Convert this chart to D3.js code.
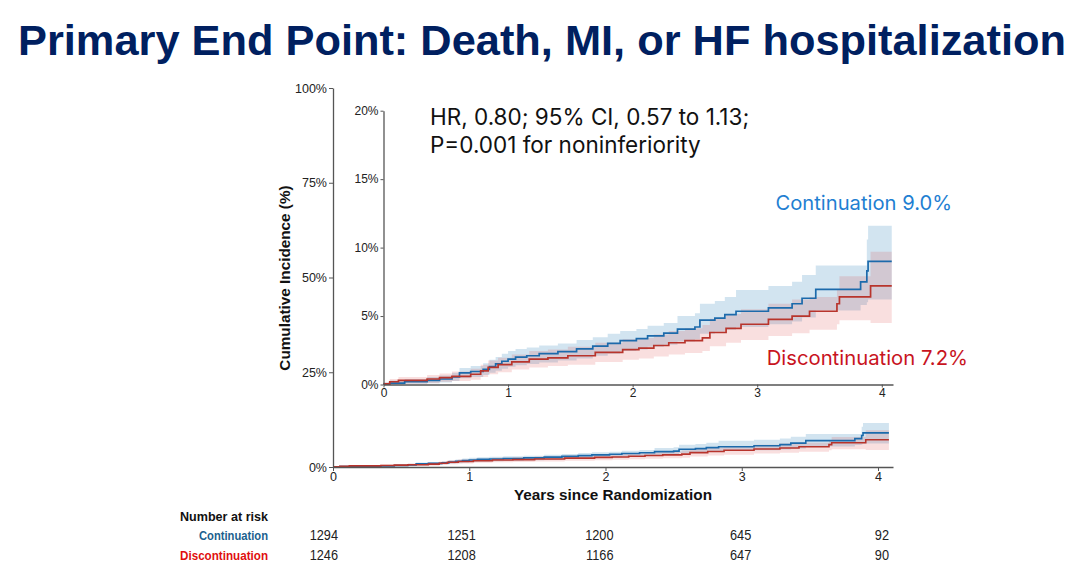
<!DOCTYPE html>
<html>
<head>
<meta charset="utf-8">
<script src="https://cdn.jsdelivr.net/npm/d3@7"></script>
<style>
html,body{margin:0;padding:0;background:#fff;}
svg{display:block;}
</style>
</head>
<body>
<svg id="chart" width="1080" height="572"></svg>
<script>
// ---------------- DATA ----------------
const titleText = "Primary End Point: Death, MI, or HF hospitalization";
const annotationLines = ["HR, 0.80; 95% CI, 0.57 to 1.13;", "P=0.001 for noninferiority"];
const seriesNames = ["Continuation", "Discontinuation"];
const seriesLabels = ["Continuation 9.0%", "Discontinuation 7.2%"];

// Continuation (years, cumulative incidence %, lower CI, upper CI)
const contTime  = [0.00,0.05,0.17,0.35,0.45,0.55,0.61,0.70,0.80,0.85,0.90,0.95,1.00,1.06,1.15,1.25,1.40,1.55,1.68,1.80,1.90,2.03,2.12,2.25,2.36,2.50,2.54,2.66,2.74,2.83,3.09,3.28,3.36,3.47,3.83,3.88,3.89,4.08];
const contEst   = [0.05,0.10,0.20,0.30,0.40,0.55,0.85,0.95,1.10,1.30,1.50,1.70,1.85,2.00,2.10,2.25,2.40,2.60,2.80,3.00,3.20,3.35,3.55,3.75,4.05,4.20,4.70,4.85,5.10,5.35,5.60,5.90,6.30,6.95,7.50,8.30,9.00,9.00];
const contLow   = [0.00,0.00,0.05,0.10,0.15,0.25,0.45,0.55,0.70,0.85,1.00,1.15,1.30,1.40,1.50,1.60,1.75,1.90,2.10,2.25,2.45,2.55,2.75,2.90,3.15,3.30,3.70,3.85,4.00,4.20,4.40,4.60,4.90,5.40,5.80,6.00,6.20,6.20];
const contHigh  = [0.15,0.30,0.40,0.55,0.65,0.85,1.20,1.35,1.55,1.80,2.00,2.25,2.45,2.60,2.70,2.85,3.00,3.25,3.45,3.70,3.90,4.05,4.30,4.50,5.00,5.20,5.90,6.10,6.40,6.90,7.20,7.50,8.00,8.70,8.70,10.6,11.6,11.6];

// Discontinuation
const discTime  = [0.00,0.05,0.12,0.35,0.45,0.55,0.70,0.78,0.84,0.92,1.03,1.17,1.32,1.48,1.70,1.92,2.05,2.17,2.29,2.42,2.56,2.62,2.75,2.87,3.09,3.28,3.42,3.64,3.66,3.91,4.08];
const discEst   = [0.05,0.20,0.30,0.40,0.50,0.60,0.75,1.00,1.25,1.45,1.65,1.85,1.95,2.10,2.35,2.55,2.65,2.85,3.05,3.20,3.40,3.80,4.10,4.40,4.75,5.00,5.35,5.90,6.40,7.20,7.20];
const discLow   = [0.00,0.00,0.05,0.10,0.20,0.25,0.35,0.55,0.75,0.90,1.10,1.25,1.35,1.45,1.65,1.80,1.90,2.05,2.20,2.30,2.45,2.80,3.05,3.25,3.55,3.75,4.00,4.40,4.70,4.50,4.50];
const discHigh  = [0.15,0.40,0.55,0.70,0.80,0.95,1.15,1.45,1.75,1.95,2.20,2.45,2.55,2.75,3.05,3.30,3.40,3.65,3.90,4.10,4.35,4.80,5.15,5.50,5.90,6.20,6.40,6.90,7.90,9.70,9.70];

// Axis ticks
const xTicks = [0,1,2,3,4];
const outerYTicks = [0,25,50,75,100];
const innerYTicks = [0,5,10,15,20];

// Number at risk
const riskTimes = [0,1,2,3,4];
const riskCont = [1294,1251,1200,645,92];
const riskDisc = [1246,1208,1166,647,90];

// ---------------- STYLE ----------------
const colLine = ["#1c6aab", "#b8342c"];
const colBand = ["#1f77b4", "#d62728"];
const bandOpacity = [0.2, 0.15];
const colLabel = ["#1f7fd2", "#c8141e"];
const colRisk = ["#1b5f8e", "#e00e0e"];
const axisCol = "#555";
const textCol = "#222";
const baseFont = "'Liberation Sans', Arial, Helvetica, sans-serif";
const annFont = "Inter, 'Open Sans', 'Liberation Sans', sans-serif";

const svg = d3.select("#chart");

const series = [
  contTime.map((t,i)=>({t, est:contEst[i], lo:contLow[i], hi:contHigh[i]})),
  discTime.map((t,i)=>({t, est:discEst[i], lo:discLow[i], hi:discHigh[i]}))
];

// ---------------- TITLE ----------------
const title = svg.append("text")
  .attr("x", 18).attr("y", 55)
  .attr("font-family", baseFont).attr("font-weight", "bold")
  .attr("font-size", 46).attr("fill", "#002060")
  .text(titleText);
{
  const w = title.node().getComputedTextLength();
  const target = 1048;
  title.attr("font-size", 46 * target / w);
}

// ---------------- SCALES ----------------
const xOut = d3.scaleLinear().domain([0, 4.11]).range([333, 893]);
const yOut = d3.scaleLinear().domain([0, 100]).range([467, 88]);
const xIn  = d3.scaleLinear().domain([0, 4.09]).range([383.5, 893]);
const yIn  = d3.scaleLinear().domain([0, 20]).range([384.5, 110.7]);

function drawCurves(g, xs, ys, lw) {
  [0,1].forEach(k => {
    const area = d3.area().curve(d3.curveStepAfter)
      .x(d => xs(d.t)).y0(d => ys(d.lo)).y1(d => ys(d.hi));
    g.append("path").datum(series[k]).attr("d", area)
      .attr("fill", colBand[k]).attr("fill-opacity", bandOpacity[k]);
  });
  [0,1].forEach(k => {
    const line = d3.line().curve(d3.curveStepAfter)
      .x(d => xs(d.t)).y(d => ys(d.est));
    g.append("path").datum(series[k]).attr("d", line)
      .attr("fill", "none").attr("stroke", colLine[k]).attr("stroke-width", lw);
  });
}

function styleAxis(g, fs) {
  g.selectAll("path.domain").attr("stroke", axisCol).attr("stroke-width", 1.3);
  g.selectAll(".tick line").attr("stroke", axisCol);
  g.selectAll(".tick text").attr("fill", textCol).attr("font-size", fs).attr("font-family", baseFont);
}

const fmtX = d3.format("d");

// ---------------- OUTER PLOT ----------------
const gOut = svg.append("g");
drawCurves(gOut, xOut, yOut, 1.6);

const gxo = svg.append("g").attr("transform", `translate(0,${yOut(0)})`)
  .call(d3.axisBottom(xOut).tickValues(xTicks).tickFormat(fmtX).tickSize(4).tickSizeOuter(0).tickPadding(1));
styleAxis(gxo, 12.5);
const gyo = svg.append("g").attr("transform", `translate(${xOut(0)},0)`)
  .call(d3.axisLeft(yOut).tickValues(outerYTicks).tickFormat(d => d + "%").tickSize(4).tickSizeOuter(0).tickPadding(2));
styleAxis(gyo, 12.5);

// ---------------- INNER (ZOOMED) PLOT ----------------
const gIn = svg.append("g");
drawCurves(gIn, xIn, yIn, 1.7);

const gxi = svg.append("g").attr("transform", `translate(0,${yIn(0)})`)
  .call(d3.axisBottom(xIn).tickValues(xTicks).tickFormat(fmtX).tickSize(3).tickSizeOuter(0).tickPadding(1));
styleAxis(gxi, 12);
const gyi = svg.append("g").attr("transform", `translate(${xIn(0)},0)`)
  .call(d3.axisLeft(yIn).tickValues(innerYTicks).tickFormat(d => d + "%").tickSize(3).tickSizeOuter(0).tickPadding(2));
styleAxis(gyi, 12);

// Annotation
annotationLines.forEach((s, i) => {
  svg.append("text").attr("x", 430).attr("y", 125 + i * 28)
    .attr("font-family", annFont).attr("font-size", 22.5).attr("fill", "#111")
    .text(s);
});

// Series labels
svg.append("text").attr("x", 952).attr("y", 210).attr("text-anchor", "end")
  .attr("font-family", annFont).attr("font-size", 20.2).attr("fill", colLabel[0])
  .text(seriesLabels[0]);
svg.append("text").attr("x", 968).attr("y", 365).attr("text-anchor", "end")
  .attr("font-family", annFont).attr("font-size", 20.3).attr("fill", colLabel[1])
  .text(seriesLabels[1]);

// Axis titles
svg.append("text").attr("transform", "translate(290,278) rotate(-90)")
  .attr("text-anchor", "middle").attr("font-family", baseFont).attr("font-weight", "bold")
  .attr("font-size", 15.3).attr("fill", "#111").text("Cumulative Incidence (%)");
svg.append("text").attr("x", 613).attr("y", 500)
  .attr("text-anchor", "middle").attr("font-family", baseFont).attr("font-weight", "bold")
  .attr("font-size", 15.3).attr("fill", "#111").text("Years since Randomization");

// ---------------- NUMBER AT RISK ----------------
const xRisk = d3.scaleLinear().domain([0,4]).range([338, 889]);
svg.append("text").attr("x", 268).attr("y", 521).attr("text-anchor", "end")
  .attr("font-family", baseFont).attr("font-weight", "bold").attr("font-size", 13)
  .attr("textLength", 88).attr("lengthAdjust", "spacingAndGlyphs")
  .attr("fill", "#111").text("Number at risk");
const riskLabelLen = [69, 88];
[riskCont, riskDisc].forEach((arr, k) => {
  const y = 540 + k * 20;
  svg.append("text").attr("x", 268).attr("y", y).attr("text-anchor", "end")
    .attr("font-family", baseFont).attr("font-weight", "bold").attr("font-size", 13)
    .attr("textLength", riskLabelLen[k]).attr("lengthAdjust", "spacingAndGlyphs")
    .attr("fill", colRisk[k]).text(seriesNames[k]);
  svg.append("g").selectAll("text").data(arr).join("text")
    .attr("x", (d, i) => xRisk(riskTimes[i])).attr("y", y).attr("text-anchor", "end")
    .attr("font-family", baseFont).attr("font-size", 14.5).attr("fill", "#222")
    .attr("transform", (d, i) => `translate(${xRisk(riskTimes[i])},0) scale(0.88,1) translate(${-xRisk(riskTimes[i])},0)`)
    .text(d => d);
});
</script>
</body>
</html>
